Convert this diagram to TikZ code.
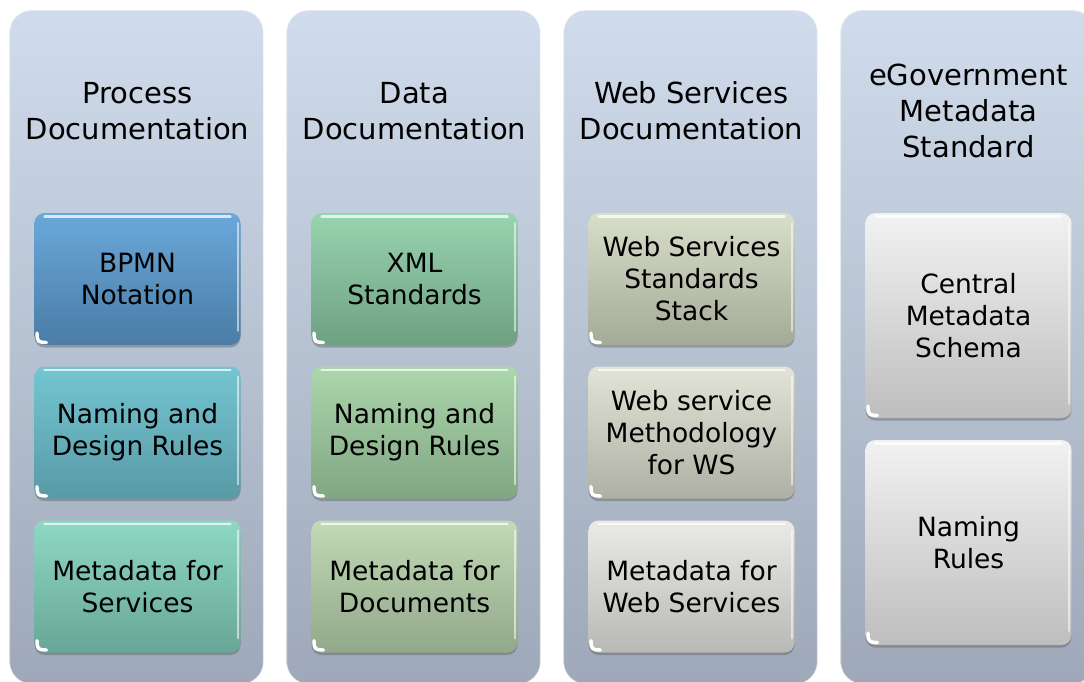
\documentclass[tikz,border=0pt]{standalone}
\usepackage{fontspec}
\setmainfont{DejaVu Sans}
\usetikzlibrary{shadows}

% box colours: top / bottom of each gradient
\definecolor{colTop}{RGB}{208,220,235}
\definecolor{colBot}{RGB}{158,168,184}
\definecolor{bpmnT}{RGB}{106,168,218}
\definecolor{bpmnB}{RGB}{74,124,166}
\definecolor{pnT}{RGB}{116,198,210}
\definecolor{pnB}{RGB}{88,154,166}
\definecolor{pmT}{RGB}{142,216,196}
\definecolor{pmB}{RGB}{104,166,150}
\definecolor{xmlT}{RGB}{152,212,176}
\definecolor{xmlB}{RGB}{110,160,130}
\definecolor{dnT}{RGB}{172,214,172}
\definecolor{dnB}{RGB}{128,166,130}
\definecolor{dmT}{RGB}{194,218,182}
\definecolor{dmB}{RGB}{146,168,138}
\definecolor{wsT}{RGB}{216,222,202}
\definecolor{wsB}{RGB}{164,170,150}
\definecolor{wmT}{RGB}{226,228,216}
\definecolor{wmB}{RGB}{174,176,164}
\definecolor{wdT}{RGB}{234,234,230}
\definecolor{wdB}{RGB}{184,184,180}
\definecolor{egT}{RGB}{242,242,242}
\definecolor{egB}{RGB}{190,190,190}

\tikzset{
  column/.style={minimum width=254pt, minimum height=674pt, rounded corners=22pt,
    top color=colTop, bottom color=colBot, draw=white, draw opacity=0.6,
    line width=1.2pt, inner sep=0pt},
  coltitle/.style={align=center, font=\fontsize{29}{36}\selectfont, text=black},
  itembox/.style={minimum width=206pt, minimum height=132pt, rounded corners=10pt,
    inner sep=0pt, align=center, font=\fontsize{26.5}{32}\selectfont, text=black,
    drop shadow={shadow xshift=0pt, shadow yshift=-2.5pt, opacity=.35, fill=black!70},
    path picture={
      \draw[white, opacity=.75, line width=2.4pt, line cap=round]
        ([xshift=10pt,yshift=-3.5pt]path picture bounding box.north west) --
        ([xshift=-10pt,yshift=-3.5pt]path picture bounding box.north east);
      \draw[white, opacity=.55, line width=1.6pt, line cap=round]
        ([xshift=-2.5pt,yshift=-10pt]path picture bounding box.north east) --
        ([xshift=-2.5pt,yshift=14pt]path picture bounding box.south east);
      \draw[white, line width=3.4pt, line cap=round]
        ([xshift=2.5pt,yshift=12pt]path picture bounding box.south west)
        .. controls ([xshift=3pt,yshift=3pt]path picture bounding box.south west)
        .. ([xshift=12pt,yshift=2.5pt]path picture bounding box.south west);
    }},
  tall/.style={minimum height=205pt}
}

\begin{document}
\begin{tikzpicture}[x=1pt,y=-1pt]
\useasboundingbox (0,0) rectangle (1084,681);
\fill[white] (0,0) rectangle (1084,681);

% the four columns
\node[column] (c1) at (136.5,347) {};
\node[column] (c2) at (413.5,347) {};
\node[column] (c3) at (690.5,347) {};
\node[column] (c4) at (967.5,347) {};

% column headings
\node[coltitle] (t1) at (137.5,111) {Process\\Documentation};
\node[coltitle] (t2) at (414.5,111) {Data\\Documentation};
\node[coltitle] (t3) at (691.5,111) {Web Services\\Documentation};
\node[coltitle] (t4) at (968.5,111) {eGovernment\\Metadata\\Standard};

% process documentation
\node[itembox, top color=bpmnT, bottom color=bpmnB] (p1) at (137.5,279) {BPMN\\Notation};
\node[itembox, top color=pnT, bottom color=pnB] (p2) at (137.5,432.5) {Naming and\\Design Rules};
\node[itembox, top color=pmT, bottom color=pmB] (p3) at (137.5,586.5) {Metadata for\\Services};

% data documentation
\node[itembox, top color=xmlT, bottom color=xmlB] (d1) at (414.5,279) {XML\\Standards};
\node[itembox, top color=dnT, bottom color=dnB] (d2) at (414.5,432.5) {Naming and\\Design Rules};
\node[itembox, top color=dmT, bottom color=dmB] (d3) at (414.5,586.5) {Metadata for\\Documents};

% web services documentation
\node[itembox, top color=wsT, bottom color=wsB] (w1) at (691.5,279) {Web Services\\Standards\\Stack};
\node[itembox, top color=wmT, bottom color=wmB] (w2) at (691.5,432.5) {Web service\\Methodology\\for WS};
\node[itembox, top color=wdT, bottom color=wdB] (w3) at (691.5,586.5) {Metadata for\\Web Services};

% eGovernment metadata standard
\node[itembox, tall, top color=egT, bottom color=egB] (e1) at (968.5,315.5) {Central\\Metadata\\Schema};
\node[itembox, tall, top color=egT, bottom color=egB] (e2) at (968.5,542.5) {Naming\\Rules};
\end{tikzpicture}
\end{document}
